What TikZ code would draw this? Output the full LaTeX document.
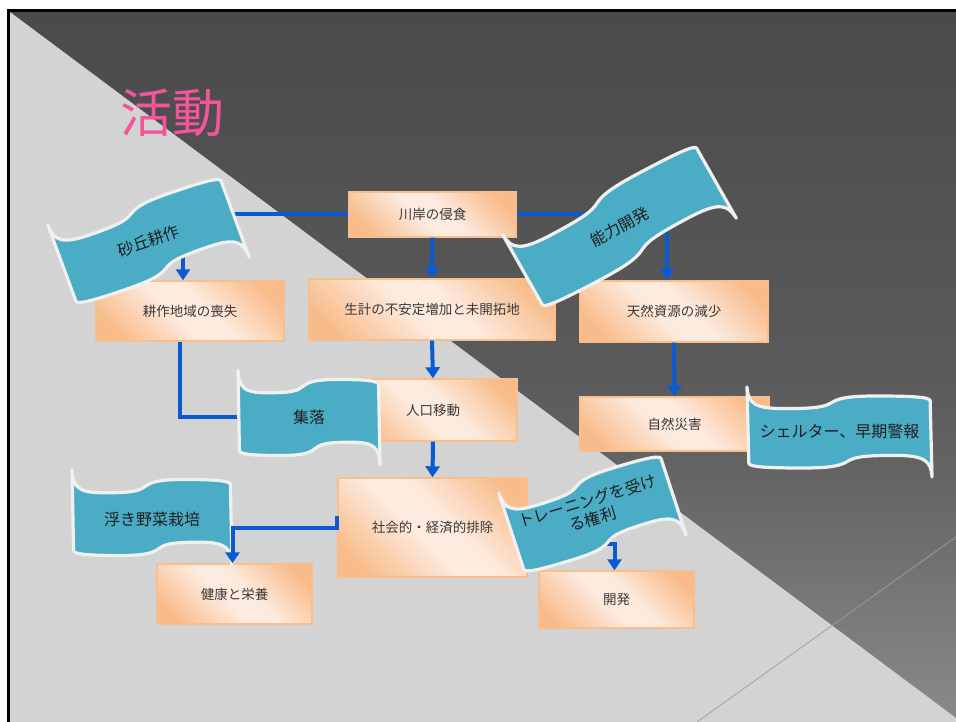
\documentclass[tikz,border=0pt]{standalone}
\usepackage{fontspec}
\newfontfamily\jp{Noto Sans CJK JP}
\usetikzlibrary{arrows.meta}
\definecolor{bgLight}{HTML}{D3D3D3}
\definecolor{dkA}{HTML}{4A4A4A}
\definecolor{dkB}{HTML}{5A5A5A}
\definecolor{dkC}{HTML}{656565}
\definecolor{dkD}{HTML}{8A8A8A}
\definecolor{pchO}{HTML}{F8BB89}
\definecolor{pchL}{HTML}{FDEBDF}
\definecolor{pchB}{HTML}{F8BF8D}
\definecolor{linkBlue}{HTML}{0A5AD2}
\definecolor{banFill}{HTML}{4BACC6}
\definecolor{banEdge}{HTML}{F0F0F0}
\definecolor{ttl}{HTML}{F2559A}
\definecolor{boxText}{HTML}{3A3A3A}
\pgfdeclarehorizontalshading{peach}{100bp}{color(0bp)=(pchO); color(22bp)=(pchO); color(45bp)=(pchL); color(55bp)=(pchL); color(78bp)=(pchO); color(100bp)=(pchO)}
\pgfdeclareverticalshading{darkbg}{100bp}{color(0bp)=(dkD); color(25bp)=(dkD); color(42bp)=(dkC); color(50bp)=(dkB); color(75bp)=(dkA); color(100bp)=(dkA)}
\tikzset{
  box/.style={draw=pchB, line width=1.4pt, shading=peach, shading angle=45,
    inner sep=0pt, text=boxText, font=\jp\fontsize{13.5}{16}\selectfont},
  conn/.style={draw=linkBlue, line width=4pt, -{Triangle[width=14pt,length=11pt]}},
  connline/.style={draw=linkBlue, line width=4pt},
  banner/.style={draw=banEdge, line width=3.2pt, fill=banFill, line join=round},
  bantext/.style={text=black!88, font=\jp\fontsize{16}{19}\selectfont, align=center, inner sep=0pt}
}
\newcommand\drawbanner[5]{%
  \begin{scope}[shift={(#1,#2)},rotate=#5,xscale=#3,yscale=#4]
    \draw[banner] (-0.5,-0.5) .. controls (-0.495,-0.32) and (-0.46,-0.26) .. (-0.3,-0.26)
      .. controls (-0.12,-0.26) and (-0.08,-0.28) .. (-0.04,-0.33)
      .. controls (0,-0.38) and (0.06,-0.40) .. (0.2,-0.40)
      .. controls (0.38,-0.40) and (0.485,-0.39) .. (0.49,-0.35)
      -- (0.5,0.5)
      .. controls (0.495,0.32) and (0.46,0.26) .. (0.3,0.26)
      .. controls (0.12,0.26) and (0.08,0.28) .. (0.04,0.33)
      .. controls (0,0.38) and (-0.06,0.40) .. (-0.2,0.40)
      .. controls (-0.38,0.40) and (-0.485,0.39) .. (-0.49,0.35)
      -- cycle;
  \end{scope}}
\begin{document}
\begin{tikzpicture}[x=1pt,y=-1pt]
\useasboundingbox (0,0) rectangle (956,722);
\fill[white] (0,0) rectangle (956,722);
% background
\shade[shading=darkbg] (10,12) rectangle (956,722);
\fill[bgLight] (10,12) -- (956,718) -- (956,722) -- (10,722) -- cycle;
\draw[gray!75, line width=0.7pt] (956,537) -- (697,722);
% frame
\draw[black, line width=3pt] (7,10.5) -- (956,10.5);
\draw[black, line width=3pt] (8.5,9) -- (8.5,722);
% title
\node (title) [text=ttl, font=\jp\fontsize{52}{60}\selectfont, inner sep=0pt] at (172,113) {活動};
% boxes
\node (riv) [box, minimum width=167pt, minimum height=45pt] at (432.5,214.5) {川岸の侵食};
\node (crop) [box, minimum width=188pt, minimum height=60pt] at (190,311) {耕作地域の喪失};
\node (liv) [box, minimum width=246pt, minimum height=61pt] at (432,309.5) {生計の不安定増加と未開拓地};
\node (nat) [box, minimum width=188pt, minimum height=61pt] at (674,311.5) {天然資源の減少};
\node (pop) [box, minimum width=168pt, minimum height=62pt] at (433,410) {人口移動};
\node (soc) [box, minimum width=189pt, minimum height=99pt] at (432.5,527.5) {社会的・経済的排除};
\node (dis) [box, minimum width=189pt, minimum height=54pt] at (674.5,424) {自然災害};
\node (health) [box, minimum width=155pt, minimum height=60pt] at (234.5,594) {健康と栄養};
\node (dev) [box, minimum width=155pt, minimum height=57pt] at (616.5,599.5) {開発};
% banner lying under the connectors
\drawbanner{152}{517.5}{160}{95}{0}
\node (floatT) [bantext] at (152,519) {浮き野菜栽培};
% connectors
\draw[conn] (riv.west) -| ([xshift=-7pt]crop.north);
\draw[conn] (riv.east) -| ([xshift=-7pt]nat.north);
\draw[conn] (riv.south) -- (liv.north);
\draw[conn] (liv.south) -- (pop.north);
\draw[connline] ([xshift=-10pt]crop.south) |- ([yshift=-7pt]pop.west);
\draw[conn] (pop.south) -- (soc.north);
\draw[conn] ([yshift=12pt]soc.west) -- (soc.west) -| ([xshift=-2pt]health.north);
\draw[conn] (nat.south) -- (dis.north);
\draw[conn] ([yshift=-16pt]soc.east) -| ([xshift=-2pt]dev.north);
% banners over the connectors
\drawbanner{148.5}{241}{180}{96}{19}
\node (sandT) [bantext, rotate=19] at (148.5,241) {砂丘耕作};
\drawbanner{619.5}{226.5}{214}{95}{28}
\node (capT) [bantext, rotate=28] at (619.5,227) {能力開発};
\drawbanner{309}{417.5}{142}{95}{0}
\node (setT) [bantext] at (309,417) {集落};
\drawbanner{839.5}{432}{185}{90}{0}
\node (shelT) [bantext] at (839.5,431) {シェルター、早期警報};
\drawbanner{592.4}{514}{167}{95}{17}
\node (trainT) [bantext, rotate=17] at (590,510) {トレーニングを受け\\る権利};
\end{tikzpicture}
\end{document}
